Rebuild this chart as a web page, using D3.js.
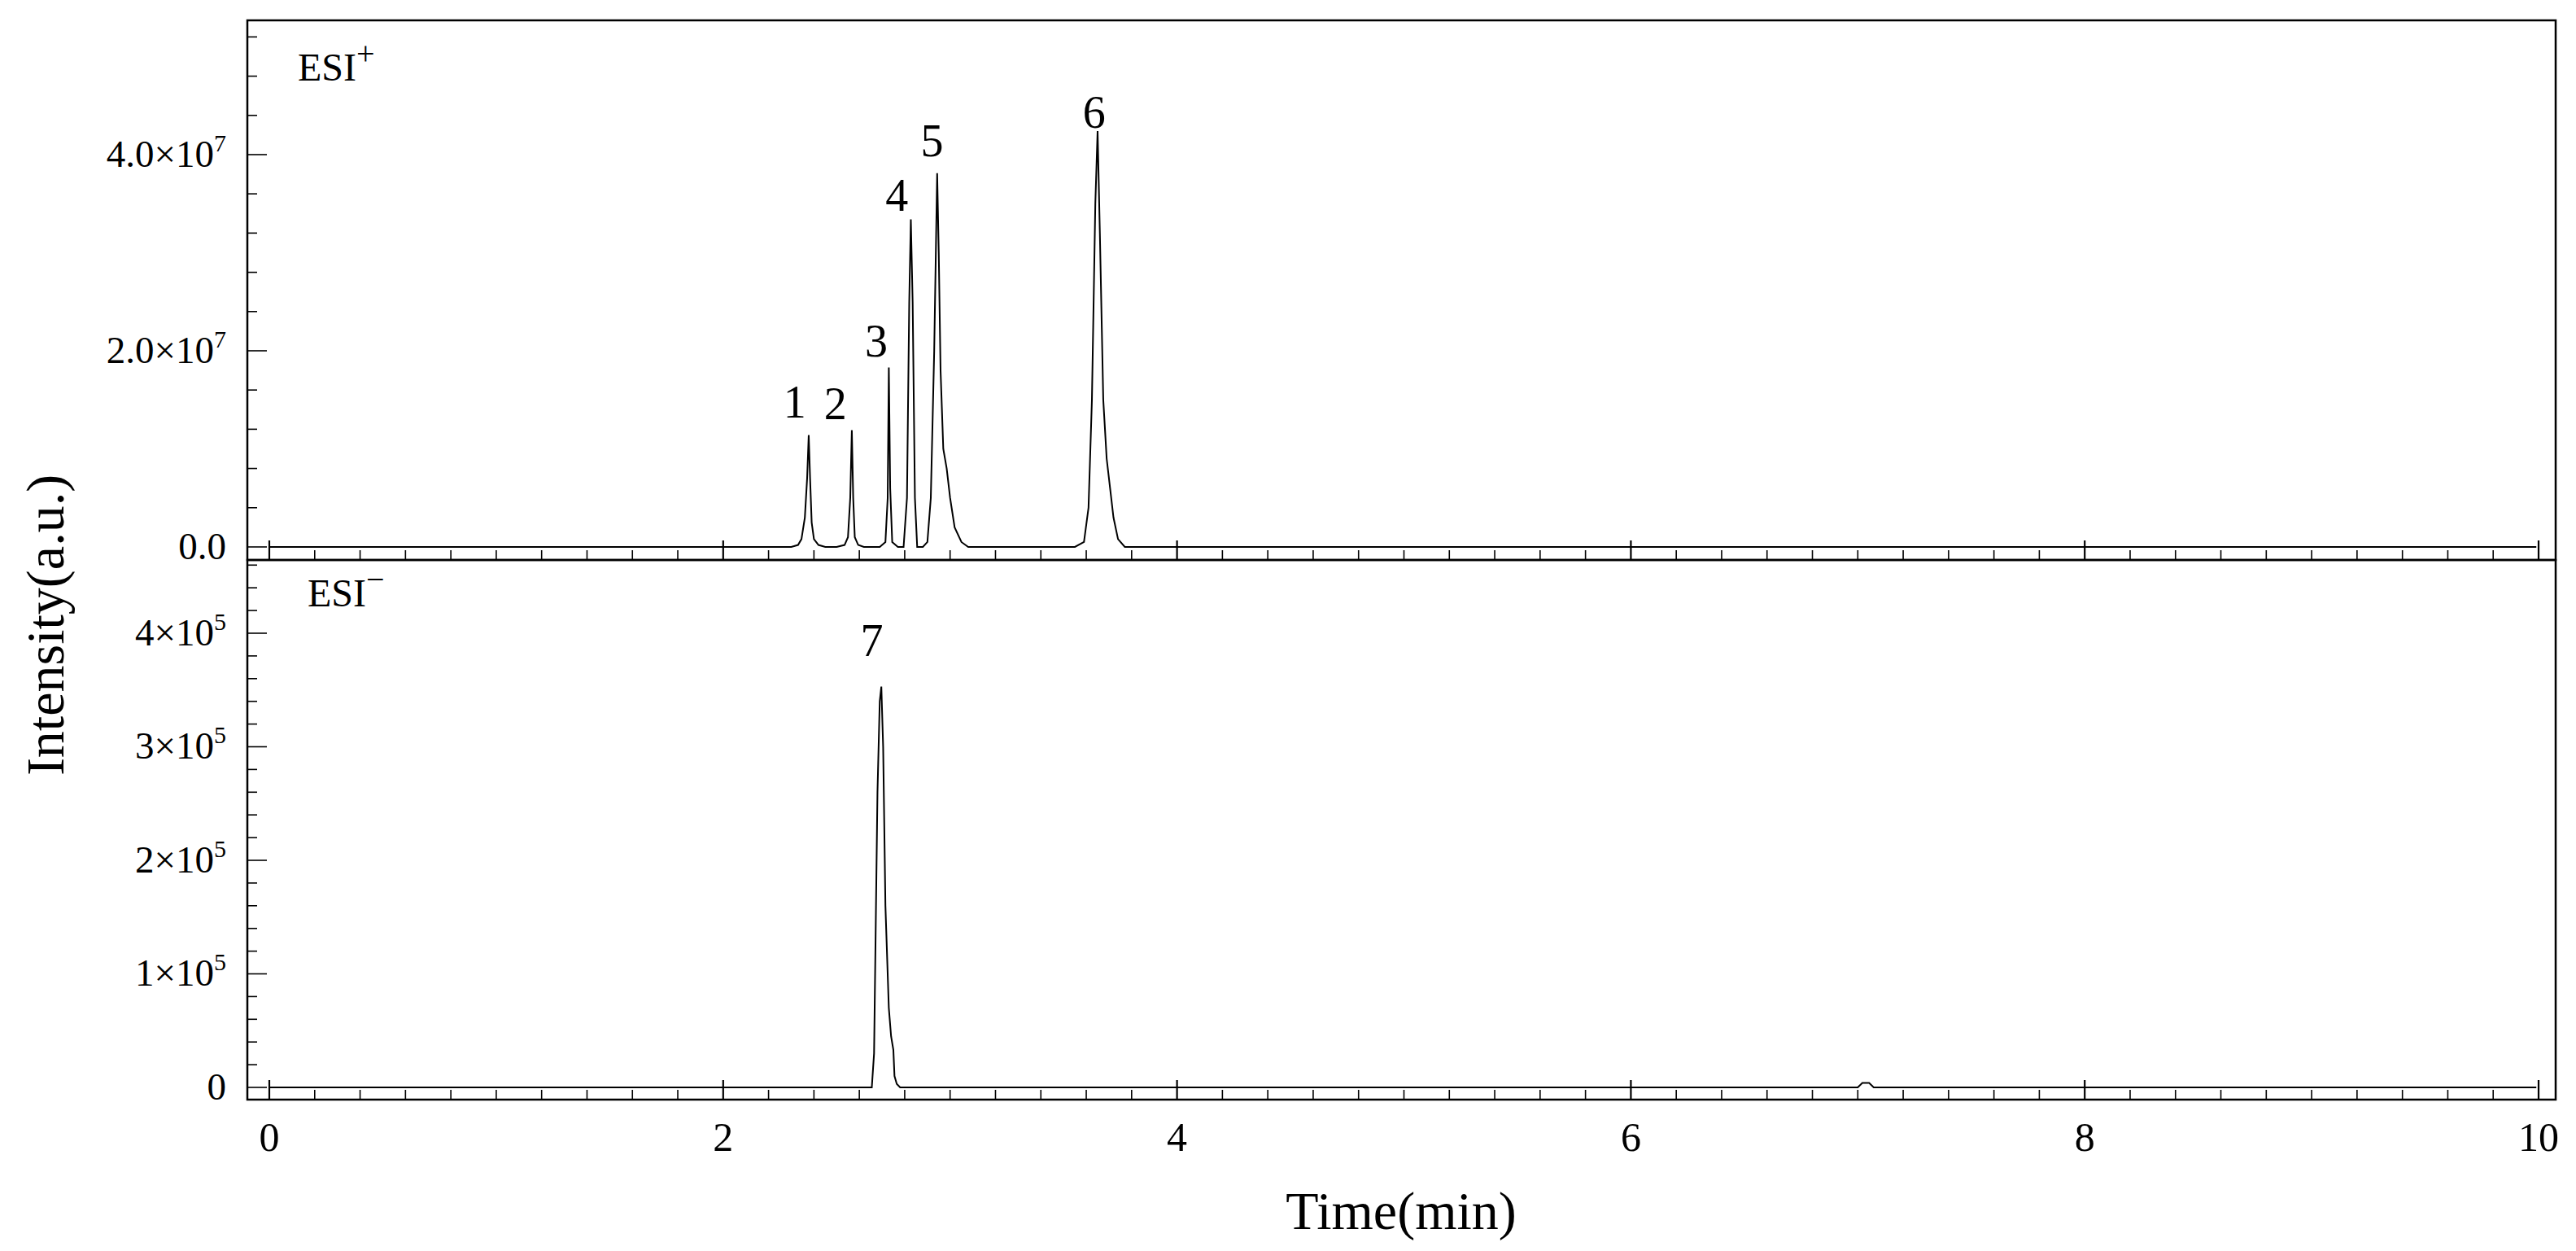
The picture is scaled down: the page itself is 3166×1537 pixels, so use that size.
<!DOCTYPE html>
<html><head><meta charset="utf-8">
<script src="https://cdn.jsdelivr.net/npm/d3@7"></script>
<style>body{margin:0;background:#fff}svg{display:block}text{font-family:"Liberation Serif","Times New Roman",serif;fill:#000}</style>
</head><body><svg id="c" width="3166" height="1537"></svg>
<script>
// ESI+ trace: [time(min), intensity]
const esiPos = [[0,0],[2.30,0],[2.33,2e5],[2.345,8e5],[2.36,3e6],[2.37,7e6],[2.377,1.14e7],[2.383,7e6],[2.39,2.5e6],[2.40,8e5],[2.42,2e5],[2.45,0],
 [2.50,0],[2.535,2e5],[2.55,1e6],[2.56,5e6],[2.567,1.19e7],[2.573,5e6],[2.58,1e6],[2.595,2e5],[2.62,0],
 [2.69,0],[2.715,5e5],[2.725,5e6],[2.73,1.83e7],[2.736,6e6],[2.745,5e5],[2.77,0],
 [2.795,0],[2.81,5e6],[2.82,2.5e7],[2.827,3.34e7],[2.835,2.5e7],[2.845,5e6],[2.855,0],
 [2.88,0],[2.90,5e5],[2.915,5e6],[2.93,2.0e7],[2.943,3.81e7],[2.95,3.0e7],[2.958,1.8e7],[2.97,1.0e7],[2.985,8e6],[3.0,5e6],[3.02,2e6],[3.05,5e5],[3.08,0],
 [3.55,0],[3.59,5e5],[3.61,4e6],[3.625,1.5e7],[3.64,3.5e7],[3.65,4.24e7],[3.66,3.2e7],[3.675,1.5e7],[3.69,9e6],[3.705,6e6],[3.72,3e6],[3.74,8e5],[3.77,0],[9.99,0]];
// ESI- trace
const esiNeg = [[0,0],[2.655,0],[2.665,3e4],[2.68,2.6e5],[2.69,3.4e5],[2.697,3.53e5],[2.705,3.0e5],[2.715,1.6e5],[2.73,7e4],[2.74,4.5e4],[2.75,3.3e4],[2.755,1e4],[2.765,3e3],[2.78,0],
 [7.0,0],[7.02,4e3],[7.05,4e3],[7.07,0],[9.99,0]];
const posTicks = [0,2e7,4e7];
const posTickLabels = [["0.0",""],["2.0×10","7"],["4.0×10","7"]];
const negTicks = [0,1e5,2e5,3e5,4e5];
const negTickLabels = [["0",""],["1×10","5"],["2×10","5"],["3×10","5"],["4×10","5"]];
const xTicks = [0,2,4,6,8,10];
const posPeaks = [[1,2.315],[2,2.495],[3,2.675],[4,2.765],[5,2.92],[6,3.635]];
const posPeakH = [1.32e7,1.30e7,1.94e7,3.43e7,3.98e7,4.27e7];
const negPeaks = [[7,2.655]];
const negPeakH = [3.80e5];

const svg = d3.select("#c");
const L=304,R=3141;
const x = d3.scaleLinear().domain([0,10]).range([331,3120]);
const yP = d3.scaleLinear().domain([-0.133e7,5.369e7]).range([688,25]);
const yN = d3.scaleLinear().domain([-0.1075e5,4.645e5]).range([1351,688]);

function panel(y, data, ticks, labels, minorStep, top, bottom, tag, tagY, peaks, peakH){
  const g = svg.append("g");
  g.append("rect").attr("x",L).attr("y",top).attr("width",R-L).attr("height",bottom-top)
   .attr("fill","none").attr("stroke","#000").attr("stroke-width",2.5);
  const minorX = d3.range(0,10.001,0.2);
  minorX.forEach(v=>{
    const major = Math.abs(v/2-Math.round(v/2))<1e-6;
    g.append("line").attr("x1",x(v)).attr("x2",x(v)).attr("y1",bottom).attr("y2",bottom-(major?24:12))
     .attr("stroke","#000").attr("stroke-width",major?2.2:1.6);
  });
  const [d0,d1]=y.domain();
  const minorY = d3.range(Math.ceil(d0/minorStep)*minorStep, d1, minorStep);
  minorY.forEach(v=>{
    const major = ticks.some(t=>Math.abs(t-v)<minorStep*0.01);
    g.append("line").attr("x1",L).attr("x2",L+(major?24:12)).attr("y1",y(v)).attr("y2",y(v))
     .attr("stroke","#000").attr("stroke-width",1.6);
  });
  ticks.forEach((t,i)=>{
    const tx = g.append("text").attr("x",L-26).attr("y",y(t)+15).attr("text-anchor","end").attr("font-size",47);
    tx.append("tspan").text(labels[i][0]);
    if(labels[i][1]) tx.append("tspan").attr("dy",-19).attr("font-size",30).text(labels[i][1]);
  });
  g.append("path").datum(data).attr("fill","none").attr("stroke","#000").attr("stroke-width",2)
   .attr("d",d3.line().x(d=>x(d[0])).y(d=>y(d[1])));
  const tg = g.append("text").attr("x",tag==="+"?366:378).attr("y",tagY).attr("font-size",48);
  tg.append("tspan").text("ESI");
  tg.append("tspan").attr("dy",-20).attr("font-size",40).text(tag==="+"?"+":"−");
  peaks.forEach((p,i)=>{
    g.append("text").attr("x",x(p[1])).attr("y",y(peakH[i])).attr("text-anchor","middle").attr("font-size",56).text(p[0]);
  });
}
panel(yP, esiPos, posTicks, posTickLabels, 0.4e7, 25, 688, "+", 99, posPeaks, posPeakH);
panel(yN, esiNeg, negTicks, negTickLabels, 0.2e5, 688, 1351, "-", 745, negPeaks, negPeakH);

xTicks.forEach(t=>{
  svg.append("text").attr("x",x(t)).attr("y",1414).attr("text-anchor","middle").attr("font-size",50).text(t);
});
svg.append("text").attr("x",1722).attr("y",1510).attr("text-anchor","middle").attr("font-size",66).text("Time(min)");
svg.append("text").attr("transform","translate(78,768) rotate(-90)").attr("text-anchor","middle").attr("font-size",66).text("Intensity(a.u.)");
</script></body></html>
